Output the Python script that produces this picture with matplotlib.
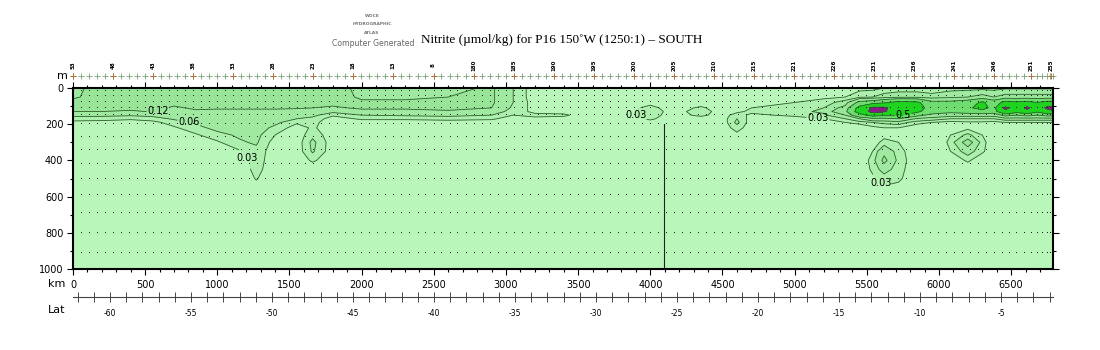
import numpy as np
import matplotlib
matplotlib.use('Agg')
import matplotlib.pyplot as plt
from matplotlib.ticker import MultipleLocator
import matplotlib.transforms as mtransforms

depth_m = [0, 50, 80, 110, 130, 150, 170, 190, 220, 260, 300, 350, 400, 450, 500, 600, 1000]

dist_km = [0, 200, 400, 550, 700, 850, 1000, 1150, 1270, 1400, 1550, 1660, 1800,
           2000, 2300, 2600, 2900, 3050, 3200, 3400, 3600, 3850, 4000, 4150, 4350,
           4500, 4600, 4700, 4850, 5000, 5200, 5350, 5450, 5540, 5620, 5720, 5850,
           5950, 6080, 6200, 6300, 6380, 6460, 6540, 6610, 6680, 6750, 6790]

# one nitrite profile (umol/kg) per distance, values at depth_m
nitrite = [
    [0.10, 0.11, 0.14, 0.14, 0.12, 0.07, 0.045, 0.02, 0.01, 0.01, 0.01, 0.01, 0.01, 0.01, 0.01, 0.01, 0.01],
    [0.15, 0.15, 0.15, 0.14, 0.12, 0.07, 0.04, 0.02, 0.01, 0.01, 0.01, 0.01, 0.01, 0.01, 0.01, 0.01, 0.01],
    [0.15, 0.15, 0.15, 0.14, 0.11, 0.065, 0.035, 0.015, 0.01, 0.01, 0.01, 0.01, 0.01, 0.01, 0.01, 0.01, 0.01],
    [0.15, 0.15, 0.15, 0.14, 0.125, 0.07, 0.045, 0.02, 0.01, 0.01, 0.01, 0.01, 0.01, 0.01, 0.01, 0.01, 0.01],
    [0.15, 0.15, 0.14, 0.11, 0.09, 0.08, 0.065, 0.045, 0.025, 0.01, 0.01, 0.01, 0.01, 0.01, 0.01, 0.01, 0.01],
    [0.15, 0.15, 0.15, 0.13, 0.11, 0.095, 0.08, 0.065, 0.05, 0.025, 0.01, 0.01, 0.01, 0.01, 0.01, 0.01, 0.01],
    [0.15, 0.15, 0.14, 0.125, 0.11, 0.10, 0.09, 0.08, 0.07, 0.05, 0.025, 0.01, 0.01, 0.01, 0.01, 0.01, 0.01],
    [0.15, 0.15, 0.14, 0.125, 0.11, 0.10, 0.09, 0.085, 0.075, 0.065, 0.055, 0.025, 0.01, 0.01, 0.01, 0.01, 0.01],
    [0.15, 0.15, 0.14, 0.125, 0.11, 0.10, 0.09, 0.085, 0.08, 0.07, 0.065, 0.05, 0.045, 0.04, 0.032, 0.01, 0.01],
    [0.15, 0.15, 0.14, 0.125, 0.11, 0.09, 0.08, 0.07, 0.05, 0.03, 0.015, 0.01, 0.01, 0.01, 0.01, 0.01, 0.01],
    [0.15, 0.15, 0.14, 0.125, 0.10, 0.08, 0.06, 0.035, 0.015, 0.01, 0.01, 0.01, 0.01, 0.01, 0.01, 0.01, 0.01],
    [0.15, 0.15, 0.14, 0.12, 0.10, 0.07, 0.05, 0.04, 0.035, 0.05, 0.07, 0.065, 0.035, 0.01, 0.01, 0.01, 0.01],
    [0.15, 0.15, 0.14, 0.11, 0.07, 0.035, 0.015, 0.01, 0.01, 0.01, 0.01, 0.01, 0.01, 0.01, 0.01, 0.01, 0.01],
    [0.10, 0.11, 0.13, 0.13, 0.10, 0.06, 0.035, 0.015, 0.01, 0.01, 0.01, 0.01, 0.01, 0.01, 0.01, 0.01, 0.01],
    [0.10, 0.11, 0.13, 0.13, 0.10, 0.065, 0.035, 0.015, 0.01, 0.01, 0.01, 0.01, 0.01, 0.01, 0.01, 0.01, 0.01],
    [0.10, 0.12, 0.14, 0.14, 0.11, 0.07, 0.04, 0.015, 0.01, 0.01, 0.01, 0.01, 0.01, 0.01, 0.01, 0.01, 0.01],
    [0.13, 0.13, 0.13, 0.12, 0.09, 0.06, 0.035, 0.015, 0.01, 0.01, 0.01, 0.01, 0.01, 0.01, 0.01, 0.01, 0.01],
    [0.06, 0.06, 0.06, 0.05, 0.04, 0.03, 0.015, 0.01, 0.01, 0.01, 0.01, 0.01, 0.01, 0.01, 0.01, 0.01, 0.01],
    [0.01, 0.01, 0.015, 0.02, 0.025, 0.035, 0.025, 0.01, 0.01, 0.01, 0.01, 0.01, 0.01, 0.01, 0.01, 0.01, 0.01],
    [0.01, 0.01, 0.01, 0.015, 0.02, 0.035, 0.02, 0.01, 0.01, 0.01, 0.01, 0.01, 0.01, 0.01, 0.01, 0.01, 0.01],
    [0.01, 0.01, 0.01, 0.01, 0.015, 0.01, 0.01, 0.01, 0.01, 0.01, 0.01, 0.01, 0.01, 0.01, 0.01, 0.01, 0.01],
    [0.01, 0.01, 0.015, 0.02, 0.025, 0.025, 0.02, 0.01, 0.01, 0.01, 0.01, 0.01, 0.01, 0.01, 0.01, 0.01, 0.01],
    [0.01, 0.01, 0.02, 0.04, 0.045, 0.04, 0.035, 0.02, 0.01, 0.01, 0.01, 0.01, 0.01, 0.01, 0.01, 0.01, 0.01],
    [0.01, 0.01, 0.01, 0.015, 0.02, 0.02, 0.015, 0.01, 0.01, 0.01, 0.01, 0.01, 0.01, 0.01, 0.01, 0.01, 0.01],
    [0.01, 0.01, 0.015, 0.035, 0.04, 0.035, 0.02, 0.01, 0.01, 0.01, 0.01, 0.01, 0.01, 0.01, 0.01, 0.01, 0.01],
    [0.01, 0.01, 0.01, 0.015, 0.02, 0.02, 0.015, 0.01, 0.01, 0.01, 0.01, 0.01, 0.01, 0.01, 0.01, 0.01, 0.01],
    [0.01, 0.01, 0.015, 0.02, 0.025, 0.04, 0.06, 0.07, 0.045, 0.02, 0.01, 0.01, 0.01, 0.01, 0.01, 0.01, 0.01],
    [0.01, 0.01, 0.02, 0.03, 0.035, 0.025, 0.015, 0.01, 0.01, 0.01, 0.01, 0.01, 0.01, 0.01, 0.01, 0.01, 0.01],
    [0.01, 0.015, 0.025, 0.035, 0.04, 0.03, 0.02, 0.01, 0.01, 0.01, 0.01, 0.01, 0.01, 0.01, 0.01, 0.01, 0.01],
    [0.01, 0.015, 0.03, 0.04, 0.045, 0.035, 0.02, 0.01, 0.01, 0.01, 0.01, 0.01, 0.01, 0.01, 0.01, 0.01, 0.01],
    [0.015, 0.025, 0.04, 0.06, 0.07, 0.05, 0.03, 0.015, 0.01, 0.01, 0.01, 0.01, 0.01, 0.01, 0.01, 0.01, 0.01],
    [0.02, 0.03, 0.08, 0.15, 0.2, 0.12, 0.06, 0.03, 0.01, 0.01, 0.01, 0.01, 0.01, 0.01, 0.01, 0.01, 0.01],
    [0.02, 0.05, 0.3, 0.6, 0.65, 0.4, 0.12, 0.04, 0.01, 0.01, 0.01, 0.01, 0.01, 0.01, 0.01, 0.01, 0.01],
    [0.02, 0.06, 0.35, 1.1, 1.15, 0.6, 0.2, 0.06, 0.02, 0.01, 0.015, 0.03, 0.04, 0.035, 0.025, 0.01, 0.01],
    [0.03, 0.08, 0.45, 1.1, 1.05, 0.55, 0.2, 0.07, 0.03, 0.02, 0.04, 0.10, 0.14, 0.08, 0.04, 0.015, 0.01],
    [0.03, 0.10, 0.6, 0.7, 0.65, 0.55, 0.25, 0.08, 0.03, 0.02, 0.03, 0.04, 0.045, 0.04, 0.035, 0.01, 0.01],
    [0.03, 0.10, 0.55, 0.6, 0.55, 0.3, 0.1, 0.04, 0.01, 0.01, 0.01, 0.01, 0.01, 0.01, 0.01, 0.01, 0.01],
    [0.03, 0.08, 0.3, 0.4, 0.35, 0.2, 0.08, 0.03, 0.01, 0.01, 0.01, 0.01, 0.01, 0.01, 0.01, 0.01, 0.01],
    [0.04, 0.10, 0.3, 0.35, 0.3, 0.15, 0.06, 0.02, 0.01, 0.03, 0.035, 0.03, 0.01, 0.01, 0.01, 0.01, 0.01],
    [0.04, 0.12, 0.35, 0.45, 0.35, 0.15, 0.06, 0.025, 0.02, 0.07, 0.16, 0.08, 0.035, 0.01, 0.01, 0.01, 0.01],
    [0.04, 0.15, 0.55, 0.6, 0.4, 0.15, 0.06, 0.025, 0.01, 0.03, 0.04, 0.035, 0.01, 0.01, 0.01, 0.01, 0.01],
    [0.04, 0.12, 0.35, 0.4, 0.35, 0.15, 0.06, 0.02, 0.01, 0.01, 0.01, 0.01, 0.01, 0.01, 0.01, 0.01, 0.01],
    [0.05, 0.15, 0.6, 1.1, 0.9, 0.3, 0.08, 0.03, 0.01, 0.01, 0.01, 0.01, 0.01, 0.01, 0.01, 0.01, 0.01],
    [0.05, 0.15, 0.55, 0.7, 0.6, 0.25, 0.08, 0.03, 0.01, 0.01, 0.01, 0.01, 0.01, 0.01, 0.01, 0.01, 0.01],
    [0.05, 0.15, 0.6, 1.1, 0.8, 0.3, 0.08, 0.03, 0.01, 0.01, 0.01, 0.01, 0.01, 0.01, 0.01, 0.01, 0.01],
    [0.05, 0.15, 0.5, 0.65, 0.55, 0.25, 0.08, 0.03, 0.01, 0.01, 0.01, 0.01, 0.01, 0.01, 0.01, 0.01, 0.01],
    [0.05, 0.15, 0.6, 1.1, 0.8, 0.3, 0.08, 0.03, 0.01, 0.01, 0.01, 0.01, 0.01, 0.01, 0.01, 0.01, 0.01],
    [0.05, 0.15, 0.6, 1.2, 0.9, 0.3, 0.08, 0.03, 0.01, 0.01, 0.01, 0.01, 0.01, 0.01, 0.01, 0.01, 0.01],
]

contour_levels = [0.03, 0.06, 0.12, 0.25, 0.5, 1.0]
level_names = ['0.03', '0.06', '0.12', '0.25', '0.5', '1.0']

# which level gets a label
label_levels = ['0.12', '0.06', '0.03', '0.03', '0.03', '0.5', '0.03']

# station positions (km along track) and bottle depths (m)
station_km = [0, 56, 111, 167, 222, 278, 333, 389, 444, 500, 555, 611, 666, 722, 777,
              833, 888, 944, 999, 1055, 1110, 1166, 1221, 1277, 1332, 1388, 1443, 1499,
              1554, 1610, 1665, 1721, 1776, 1832, 1887, 1943, 1998, 2054, 2109, 2165,
              2220, 2276, 2331, 2387, 2442, 2498, 2553, 2609, 2664, 2720, 2776, 2831,
              2887, 2942, 2998, 3053, 3109, 3164, 3220, 3275, 3331, 3386, 3442, 3497,
              3553, 3608, 3664, 3719, 3775, 3830, 3886, 3941, 3997, 4052, 4108, 4163,
              4219, 4274, 4330, 4385, 4441, 4496, 4552, 4607, 4663, 4718, 4774, 4829,
              4885, 4940, 4996, 5051, 5107, 5162, 5218, 5274, 5329, 5385, 5440, 5496,
              5551, 5607, 5662, 5718, 5773, 5829, 5884, 5940, 5995, 6051, 6106, 6162,
              6217, 6273, 6328, 6384, 6435, 6486, 6537, 6589, 6640, 6680, 6715, 6745,
              6770, 6790]
bottle_depth = [15, 45, 80, 110, 150, 200, 270, 340, 420, 500, 590, 690, 800, 910]

label_km = [0, 278, 555, 833, 1110, 1388, 1665, 1943, 2220, 2498, 2776, 3053, 3331,
            3608, 3886, 4163, 4441, 4718, 4996, 5274, 5551, 5829, 6106, 6384, 6640, 6775]
label_station = ['53', '48', '43', '38', '33', '28', '23', '18', '13', '8', '180', '185',
                 '190', '195', '200', '205', '210', '215', '221', '226', '231', '236',
                 '241', '246', '251', '255']

gap_km = 4094
gap_top_m = 200

km_max = 6790
lat_left, lat_right = -62.28, -1.79

# ---------------- figure ----------------
W, H = 1100, 350
fig = plt.figure(figsize=(11, 3.5), dpi=100)
fig.patch.set_facecolor('white')

def fx(px):
    return px / W

def fy(py):
    return 1 - py / H

ax = fig.add_axes([fx(73), fy(269), fx(1053) - fx(73), fy(88) - fy(269)])

X, Y = np.meshgrid(dist_km, depth_m)
Z = np.array(nitrite).T

fill_levels = [0] + contour_levels + [5]
fill_colors = ['#b9f6b9', '#adefad', '#a0e9a0', '#98e598', '#6fdc6f', '#1fd41f', '#8a1c8a']
ax.contourf(X, Y, Z, levels=fill_levels, colors=fill_colors)

# one contour set per level so each label lands on the right line
line_sets = {}
for lev, name in zip(contour_levels, level_names):
    line_sets[name] = ax.contour(X, Y, Z, levels=[lev], colors='#2e5e2e', linewidths=0.6)

lab_pos = [(600, 150), (800, 205), (1180, 400), (3880, 175), (5160, 177), (5745, 120), (5620, 505)]
for name, pos in zip(label_levels, lab_pos):
    cset = line_sets[name]
    cset.clabel(fmt={cset.levels[0]: name}, fontsize=7, colors='black',
                inline=True, inline_spacing=1, manual=[pos])
for cset in line_sets.values():
    for t in cset.labelTexts:
        t.set_rotation(0)

# bottle sample dots
SX, SY = np.meshgrid(station_km, bottle_depth)
ax.plot(SX.ravel(), SY.ravel(), ',', color='#222222')

ax.plot([gap_km, gap_km], [gap_top_m, 1000], color='#222222', lw=0.8)

ax.set_xlim(0, km_max)
ax.set_ylim(1000, 0)
ax.xaxis.set_major_locator(MultipleLocator(500))
ax.xaxis.set_minor_locator(MultipleLocator(100))
ax.yaxis.set_major_locator(MultipleLocator(200))
ax.yaxis.set_minor_locator(MultipleLocator(100))
ax.tick_params(which='both', direction='out', top=True, right=True, labelsize=7,
               colors='black', width=0.8)
ax.tick_params(which='major', length=4, pad=3)
ax.tick_params(which='minor', length=2)
ax.tick_params(axis='x', labeltop=False, pad=4)
for s in ax.spines.values():
    s.set_linewidth(1.5)

# station crosses and labels above the frame
trans = mtransforms.blended_transform_factory(ax.transData, ax.transAxes)
row_y = (88 - 76) / 181 + 1
ax.plot(station_km, [row_y] * len(station_km), '+', color='#7aa07a', ms=4, mew=0.6,
        transform=trans, clip_on=False)
ax.plot(label_km, [row_y] * len(label_km), '+', color='#b0703a', ms=5, mew=0.7,
        transform=trans, clip_on=False)
for k, s in zip(label_km, label_station):
    ax.text(k, (88 - 65) / 181 + 1, s, transform=trans, rotation=90, fontsize=4,
            ha='center', va='center', fontweight='bold')

fig.text(fx(62), fy(76), 'm', fontsize=8, ha='center', va='center')
fig.text(fx(57), fy(284), 'km', fontsize=8, ha='center', va='center')
fig.text(fx(57), fy(310), 'Lat', fontsize=8, ha='center', va='center')

# latitude axis
lax = fig.add_axes([fx(73), fy(297), fx(1053) - fx(73), 0.0001])
lax.set_xlim(lat_left, lat_right)
lax.set_yticks([])
for side in ['top', 'left', 'right']:
    lax.spines[side].set_visible(False)
lax.spines['bottom'].set_linewidth(0.8)
lax.spines['bottom'].set_color('#444444')
lax.xaxis.set_major_locator(MultipleLocator(5))
lax.xaxis.set_minor_locator(MultipleLocator(1))
lax.tick_params(axis='x', which='both', direction='inout', length=7, width=0.7,
                colors='#444444', labelsize=5.5, pad=5)
lax.set_xticks(lax.get_xticks())
lax.set_xticklabels(['%d' % t for t in lax.get_xticks()], color='black')
lax.set_xlim(lat_left, lat_right)

# titles
fig.text(fx(562), fy(40), 'Nitrite (\u00b5mol/kg) for P16 150\u02daW (1250:1) \u2013 SOUTH',
         fontsize=9.5, family='Liberation Serif', ha='center', va='center')
fig.text(fx(372), fy(16), 'WOCE', fontsize=3.2, ha='center', va='center', color='#777777', fontweight='bold')
fig.text(fx(372), fy(24), 'HYDROGRAPHIC', fontsize=3.2, ha='center', va='center', color='#777777', fontweight='bold')
fig.text(fx(372), fy(33), 'ATLAS', fontsize=3.2, ha='center', va='center', color='#777777', fontweight='bold')
fig.text(fx(373), fy(44), 'Computer Generated', fontsize=5.6, ha='center', va='center', color='#666666')

fig.savefig('out.png', dpi=100)
